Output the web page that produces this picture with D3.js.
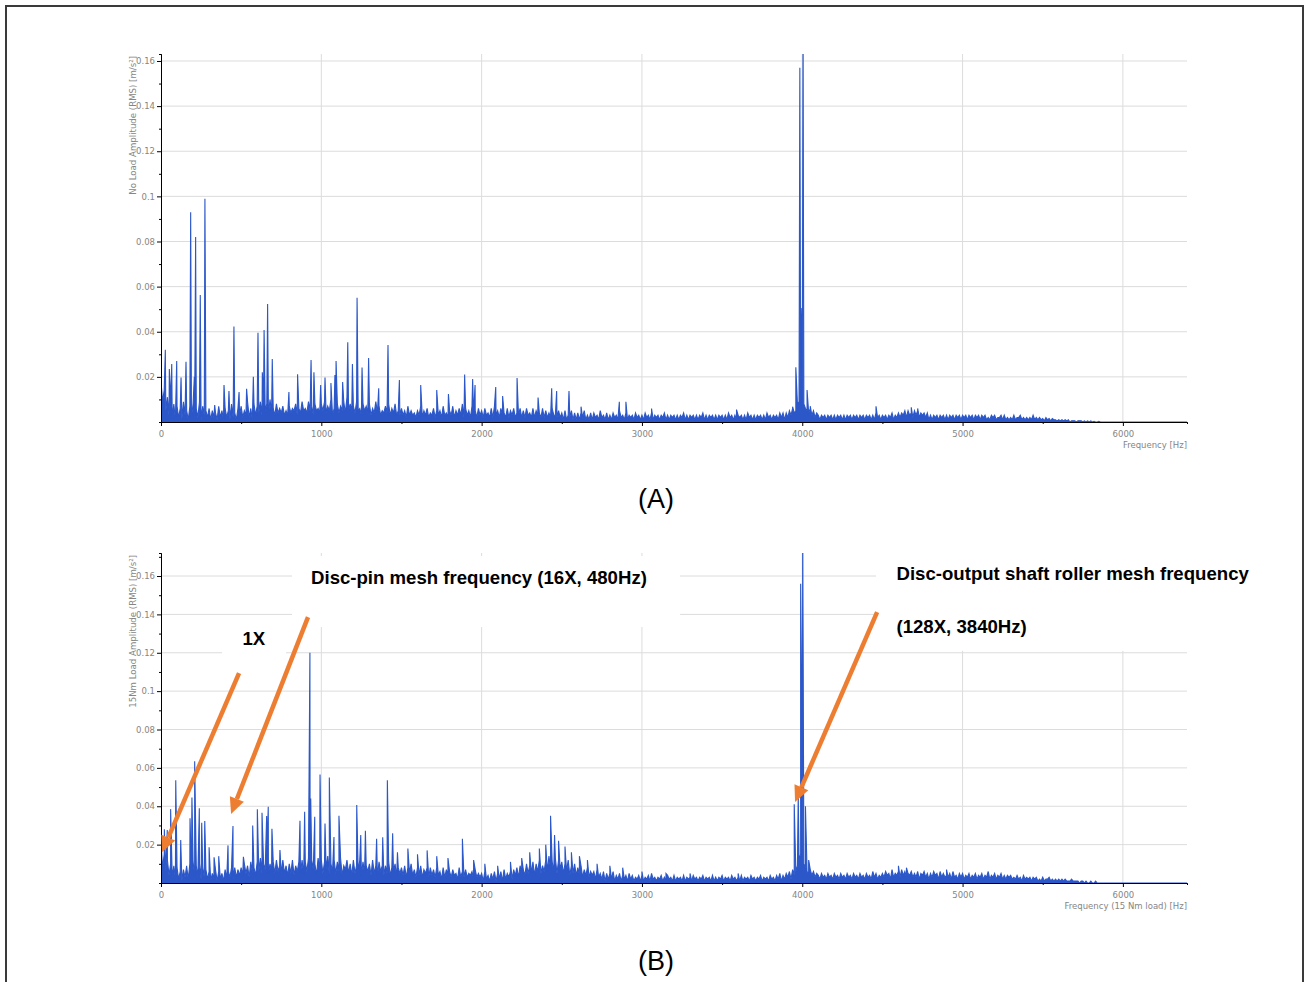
<!DOCTYPE html>
<html>
<head>
<meta charset="utf-8">
<script src="https://cdn.jsdelivr.net/npm/d3@7"></script>
<style>
  body { margin: 0; background: #fff; }
  svg { display: block; }
</style>
</head>
<body>
<svg id="chart" width="1309" height="982"></svg>
<script>
// spectrum floor, in 1e-3 m/s², one value every FREQ_STEP Hz starting at 0 Hz
const FREQ_STEP = 10;

const floorA = [
  18,9,14,5,11,3,9,2,8,1,
  7,2,6,1,9,3,5,1,7,2,
  8,3,6,2,9,1,7,3,5,2,
  6,1,5,2,4,1,7,2,5,1,
  6,2,5,1,8,2,4,1,6,3,
  7,2,5,3,9,2,6,1,8,3,
  7,4,9,3,11,5,8,3,10,4,
  6,3,8,4,6,4,7,3,5,3,
  7,4,6,5,8,3,6,4,9,5,
  6,4,9,5,7,3,8,5,6,4,
  8,5,9,4,7,5,10,3,6,5,
  8,4,7,5,9,4,11,5,8,5,
  7,4,9,5,6,3,8,5,7,4,
  8,3,6,4,9,4,7,3,5,4,
  7,4,8,3,6,4,8,3,5,3,
  6,3,5,2,7,3,5,3,4,2,
  5,3,7,2,5,3,6,2,4,3,
  6,2,5,3,5,2,7,3,4,2,
  5,3,7,2,5,3,6,3,8,2,
  6,3,5,2,7,3,5,2,6,3,
  5,2,6,3,4,2,6,2,7,3,
  5,2,6,3,4,2,6,2,5,3,
  6,2,4,3,6,2,5,2,6,3,
  4,2,6,2,5,3,4,2,6,2,
  5,2,4,2,6,3,3,2,5,2,
  4,1,5,1,3,2,5,1,4,1,
  4,1,4,2,5,1,3,1,4,1,
  4,2,3,1,5,2,3,1,4,1,
  3,1,4,2,3,1,5,2,3,1,
  4,1,3,2,3,1,4,2,3,1,
  3,1,4,2,3,1,4,1,3,2,
  3,1,3,2,4,1,3,1,3,2,
  3,1,3,1,3,2,4,1,3,1,
  3,2,3,1,3,1,3,2,4,1,
  3,1,3,2,3,1,3,1,3,2,
  3,1,3,1,4,2,3,1,3,1,
  3,2,3,1,3,1,4,2,3,1,
  3,1,3,2,3,1,3,1,4,2,
  3,1,3,2,3,1,4,2,4,1,
  4,2,5,3,6,4,5,8,9,12,
  10,8,6,5,4,6,3,5,2,4,
  3,1,3,2,3,1,3,2,3,1,
  3,1,3,2,3,1,3,1,3,2,
  3,1,3,2,3,1,3,2,3,1,
  3,2,3,1,3,1,4,2,3,1,
  3,2,3,1,3,2,4,1,3,2,
  4,2,4,3,5,2,5,3,4,2,
  5,3,5,2,4,3,4,2,4,1,
  3,1,3,2,3,1,3,2,3,1,
  3,1,3,2,3,1,3,2,3,1,
  3,2,3,1,3,2,3,1,3,2,
  3,1,3,2,3,1,2,1,3,2,
  3,1,2,2,3,1,3,1,2,1,
  2,1,3,1,2,2,3,1,2,1,
  2,1,2,1,3,1,2,1,2,1,
  1.5,0.5,2,1,1.5,0.5,1.5,1,1,0.5,
  1,0.5,1,0.5,1,0.5,1,0,0.5,0.5,
  0.5,0,0.5,0.5,0.5,0,0.5,0,0.5,0,
  0.5,0,0.3,0,0,0.3,0,0,0,0,
  0,0,0,0,0,0,0,0,0,0,
  0,0,0,0,0,0,0,0,0,0,
  0,0,0,0,0,0,0,0,0,0,
  0,0,0,0,0,0,0,0,0,0,
  0,0,0,0,0,0,0,0,0,0,
  0
];

// discrete lines [Hz, 1e-3 m/s²]
const peaksA = [
  [27,32],[52,23.5],[67,25.7],[98,27],[125,19.7],[156,26.7],[185,93],[208,20],
  [216,82],[245,56.3],[274,99],[335,7.5],[393,16.4],[424,13.7],[455,42.3],[487,13.3],
  [534,14.7],[576,20],[605,39.6],[632,22],[643,40.8],[665,52.3],[694,27.9],[798,13.3],
  [852,21.2],[936,27.5],[954,22],[996,16.4],[1023,19.7],[1060,17.3],[1085,20.8],[1092,27],
  [1133,17.7],[1165,35.3],[1194,25.7],[1223,55.1],[1254,24.2],[1295,28.4],[1358,15],[1416,34.1],
  [1487,18.6],[1620,16.4],[1720,14.2],[1793,12.4],[1894,21.1],[1944,19],[1959,16.4],[2088,15.5],
  [2131,11.5],[2221,19.5],[2352,10.8],[2437,15],[2468,13.7],[2545,13.7],[2620,6.8],[2859,9],
  [2900,9],[3060,6],[3590,5.5],[3940,6.8],[3960,24.3],[3985,157],[3993,50.5],[3999,37],
  [4005,175],[4030,14.2],[4050,7],[4460,7],[4680,6.5],[4720,6]
];

const floorB = [
  21,8,15,6,12,4,10,3,9,2,
  8,2,6,1,7,3,9,2,10,4,
  11,4,9,3,10,2,8,3,7,2,
  6,1,5,2,7,1,6,2,5,1,
  7,2,6,3,8,2,8,3,7,4,
  8,4,10,5,9,3,11,5,8,4,
  11,6,13,5,10,7,14,5,10,6,
  11,5,12,6,9,5,12,5,9,4,
  10,5,12,4,9,6,11,5,12,4,
  11,6,13,5,12,7,10,4,13,6,
  12,5,11,7,14,4,10,6,12,5,
  11,6,13,4,9,7,12,5,10,4,
  12,5,9,6,12,4,11,5,9,6,
  10,4,12,5,9,3,11,6,9,4,
  9,5,11,4,8,6,10,3,8,5,
  8,4,9,3,8,5,10,4,7,3,
  8,4,9,3,7,5,8,3,8,4,
  7,3,8,4,6,2,8,3,7,4,
  6,3,7,4,5,2,8,3,6,3,
  7,3,5,4,6,2,7,3,5,3,
  5,1,6,2,4,1,5,2,6,1,
  5,2,6,1,7,2,5,3,6,2,
  7,4,8,3,9,5,7,4,10,5,
  9,5,11,4,10,6,12,5,9,6,
  12,6,14,7,11,6,13,5,12,7,
  11,5,10,6,12,4,9,5,10,4,
  8,4,9,3,7,4,8,3,6,4,
  6,2,7,3,5,2,6,1,5,2,
  5,2,6,1,4,2,5,1,4,2,
  4,1,5,2,4,1,3,2,4,1,
  4,1,3,2,4,1,5,2,3,1,
  3,2,4,1,3,1,4,2,3,1,
  4,1,3,2,3,1,4,1,3,2,
  3,1,4,2,3,1,3,2,4,1,
  3,2,3,1,4,1,3,1,3,2,
  4,1,3,2,3,1,4,2,3,1,
  3,1,4,1,3,2,3,1,4,2,
  3,1,3,2,4,1,3,2,3,1,
  4,2,3,1,4,2,5,1,4,2,
  5,3,6,2,7,4,6,9,12,15,
  13,10,8,6,5,7,4,6,3,5,
  4,2,5,3,4,2,5,3,4,2,
  5,3,4,2,5,3,4,2,5,3,
  4,2,5,3,4,2,5,3,4,2,
  5,3,4,2,6,3,5,2,4,3,
  5,3,6,4,5,2,7,3,5,4,
  6,3,7,4,6,3,5,4,6,3,
  5,3,6,2,5,4,6,3,5,2,
  5,3,6,4,5,2,6,3,5,3,
  4,3,5,2,6,3,4,2,5,3,
  5,2,4,3,5,2,4,3,5,2,
  4,3,5,2,4,3,6,2,4,3,
  5,2,4,3,5,2,4,2,4,3,
  4,2,3,2,4,2,3,1,4,2,
  3,2,3,1,3,2,3,1,2,1,
  3,1,2,2,3,1,2,1,2,1,
  2,1,2,1,2,1,1,1,2,1,
  1,1,1,0,1,1,0,1,0,0,
  1,0,0,1,0,0,0,0,0,0,
  0,0,0,0,0,0,0,0,0,0,
  0,0,0,0,0,0,0,0,0,0,
  0,0,0,0,0,0,0,0,0,0,
  0,0,0,0,0,0,0,0,0,0,
  0,0,0,0,0,0,0,0,0,0,
  0
];

const peaksB = [
  [21,28],[39,27.6],[60,38.5],[92,53.6],[123,22.4],[160,8.5],[181,33.7],[193,44.6],
  [210,63.5],[239,38.9],[254,31.4],[273,32.3],[300,18.6],[331,13.4],[360,14],[418,19.6],
  [449,29.7],[514,13.7],[572,30],[601,38.4],[630,36.6],[659,34.9],[669,39.7],[692,28.3],
  [742,17.2],[867,32.5],[896,37.1],[929,120],[934,44],[959,34.5],[992,56.6],[1023,31],
  [1050,55],[1079,24],[1110,35],[1221,40.6],[1246,25],[1275,27.2],[1345,23],[1383,23.8],
  [1412,53.6],[1445,25.9],[1475,16],[1540,18],[1600,15],[1660,17],[1720,14],[1790,13],
  [1880,23],[1950,12],[2020,10],[2100,9],[2180,11],[2250,13],[2300,16],[2360,18],
  [2400,20],[2430,35],[2455,25],[2480,22],[2520,19],[2560,16],[2610,14],[2660,12],
  [2720,10],[2800,9],[2880,8],[3000,6],[3150,5],[3300,5],[3600,5],[3950,41],
  [3975,46],[3990,156],[3995,112],[3998,63],[4003,185],[4020,40],[4040,12],[4600,9],
  [4650,8],[4900,7]
];

const xTicks = [0, 1000, 2000, 3000, 4000, 5000, 6000];
const xMinorTicks = [500, 1500, 2500, 3500, 4500, 5500];
const yTicks = [0.02, 0.04, 0.06, 0.08, 0.1, 0.12, 0.14, 0.16];
const yMinorTicks = [0, 0.01, 0.03, 0.05, 0.07, 0.09, 0.11, 0.13, 0.15, 0.17];

const ORANGE = '#ed7d31';
const BLUE = '#2b57c9';
const AXIS_FONT = '"DejaVu Sans", Verdana, sans-serif';

const svg = d3.select('#chart');

// outer frame
svg.append('rect')
  .attr('x', 6).attr('y', 6)
  .attr('width', 1297).attr('height', 1010)
  .attr('fill', 'none')
  .attr('stroke', '#3a3a3a')
  .attr('stroke-width', 2);

function buildSeries(floor, peaks) {
  const pts = floor.map((v, i) => [i * FREQ_STEP, v]).concat(peaks);
  pts.sort((a, b) => a[0] - b[0]);
  return pts;
}

function drawPanel(p) {
  const x = d3.scaleLinear().domain([0, 6400]).range([161, 1187]);
  const y = d3.scaleLinear().domain([0, p.yMax]).range([p.base, p.top]);
  const g = svg.append('g');

  // grid
  g.selectAll('.hgrid').data(yTicks).enter().append('line')
    .attr('x1', x(0)).attr('x2', x(6400))
    .attr('y1', d => y(d)).attr('y2', d => y(d))
    .attr('stroke', '#dcdcdc').attr('stroke-width', 1);
  g.selectAll('.vgrid').data(xTicks.slice(1)).enter().append('line')
    .attr('x1', d => x(d)).attr('x2', d => x(d))
    .attr('y1', y(0)).attr('y2', p.top)
    .attr('stroke', '#dcdcdc').attr('stroke-width', 1);

  // white label boxes hide the grid
  (p.boxes || []).forEach(b => {
    g.append('rect')
      .attr('x', x(b.f0)).attr('y', y(b.a1))
      .attr('width', x(b.f1) - x(b.f0))
      .attr('height', y(b.a0) - y(b.a1))
      .attr('fill', '#fff');
  });

  // spectrum
  const clipId = 'clip' + p.name;
  svg.append('clipPath').attr('id', clipId)
    .append('rect')
    .attr('x', x(0)).attr('y', p.top)
    .attr('width', x(6400) - x(0)).attr('height', p.base - p.top);

  const series = buildSeries(p.floor, p.peaks);
  const area = d3.area()
    .x(d => x(d[0]))
    .y0(y(0))
    .y1(d => y(d[1] / 1000));
  const line = d3.line()
    .x(d => x(d[0]))
    .y(d => y(d[1] / 1000));

  g.append('path')
    .datum(series)
    .attr('clip-path', 'url(#' + clipId + ')')
    .attr('fill', BLUE)
    .attr('d', area);
  g.append('path')
    .datum(series)
    .attr('clip-path', 'url(#' + clipId + ')')
    .attr('fill', 'none')
    .attr('stroke', BLUE)
    .attr('stroke-width', 1.1)
    .attr('d', line);

  // axes
  const yAxis = d3.axisLeft(y).tickValues(yTicks).tickSize(4).tickSizeOuter(0).tickPadding(2)
    .tickFormat(d => String(+d.toFixed(2)));
  const yMinor = d3.axisLeft(y).tickValues(yMinorTicks.filter(v => v <= p.yMax)).tickSize(2).tickFormat('');
  const xAxis = d3.axisBottom(x).tickValues(xTicks).tickSize(4).tickSizeOuter(0).tickPadding(5)
    .tickFormat(d => String(d));
  const xMinor = d3.axisBottom(x).tickValues(xMinorTicks).tickSize(2).tickFormat('');

  const ax = g.append('g').attr('class', 'axes');
  ax.append('g').attr('transform', 'translate(' + x(0) + ',0)').call(yMinor);
  ax.append('g').attr('transform', 'translate(' + x(0) + ',0)').call(yAxis);
  ax.append('g').attr('transform', 'translate(0,' + y(0) + ')').call(xMinor);
  ax.append('g').attr('transform', 'translate(0,' + y(0) + ')').call(xAxis);
  ax.selectAll('.domain').attr('stroke', '#000');
  ax.selectAll('.tick line').attr('stroke', '#000');
  ax.selectAll('text')
    .attr('fill', '#858585')
    .style('font-family', AXIS_FONT)
    .style('font-size', '8.5px');

  // axis titles
  g.append('text')
    .attr('transform', 'translate(135.5,' + (p.top + 2) + ') rotate(-90)')
    .attr('text-anchor', 'end')
    .attr('fill', '#858585')
    .style('font-family', AXIS_FONT)
    .style('font-size', '8.6px')
    .text(p.yLabel);
  g.append('text')
    .attr('x', x(6400)).attr('y', y(0) + 26)
    .attr('text-anchor', 'end')
    .attr('fill', '#858585')
    .style('font-family', AXIS_FONT)
    .style('font-size', '8.5px')
    .text(p.xLabel);

  // caption
  g.append('text')
    .attr('x', 656).attr('y', p.captionY)
    .attr('text-anchor', 'middle')
    .style('font-family', '"Liberation Sans", Arial, sans-serif')
    .style('font-size', '27px')
    .text(p.caption);

  // annotations
  (p.notes || []).forEach(n => {
    g.append('text')
      .attr('x', x(n.f)).attr('y', y(n.a))
      .style('font-family', '"Liberation Sans", Arial, sans-serif')
      .style('font-weight', 'bold')
      .style('font-size', '18.6px')
      .text(n.text);
  });
  (p.arrows || []).forEach(a => {
    const x0 = x(a.from[0]), y0 = y(a.from[1]);
    const x1 = x(a.to[0]), y1 = y(a.to[1]);
    const ang = Math.atan2(y1 - y0, x1 - x0);
    const headL = 16, headW = 7.5;
    const bx = x1 - headL * Math.cos(ang), by = y1 - headL * Math.sin(ang);
    g.append('line')
      .attr('x1', x0).attr('y1', y0).attr('x2', bx).attr('y2', by)
      .attr('stroke', ORANGE).attr('stroke-width', 4.5);
    const px = -Math.sin(ang) * headW, py = Math.cos(ang) * headW;
    g.append('polygon')
      .attr('points', [[x1, y1], [bx + px, by + py], [bx - px, by - py]].map(q => q.join(',')).join(' '))
      .attr('fill', ORANGE);
  });
}

drawPanel({
  name: 'A', top: 54, base: 422, yMax: 0.1631,
  floor: floorA, peaks: peaksA,
  yLabel: 'No Load Amplitude (RMS) [m/s²]',
  xLabel: 'Frequency [Hz]',
  caption: '(A)', captionY: 508
});

drawPanel({
  name: 'B', top: 553, base: 883, yMax: 0.172,
  floor: floorB, peaks: peaksB,
  yLabel: '15Nm Load Amplitude (RMS) [m/s²]',
  xLabel: 'Frequency (15 Nm load) [Hz]',
  caption: '(B)', captionY: 970,
  boxes: [
    { f0: 817, f1: 3238, a0: 0.1334, a1: 0.1704 },
    { f0: 380, f1: 780, a0: 0.115, a1: 0.137 },
    { f0: 4460, f1: 6500, a0: 0.121, a1: 0.172 }
  ],
  notes: [
    { f: 936, a: 0.1558, text: 'Disc-pin mesh frequency (16X, 480Hz)' },
    { f: 508, a: 0.124, text: '1X' },
    { f: 4588, a: 0.1579, text: 'Disc-output shaft roller mesh frequency' },
    { f: 4588, a: 0.1305, text: '(128X, 3840Hz)' }
  ],
  arrows: [
    { from: [487, 0.1094], to: [6, 0.016] },
    { from: [917, 0.1386], to: [437, 0.036] },
    { from: [4467, 0.1412], to: [3955, 0.0422] }
  ]
});
</script>
</body>
</html>
